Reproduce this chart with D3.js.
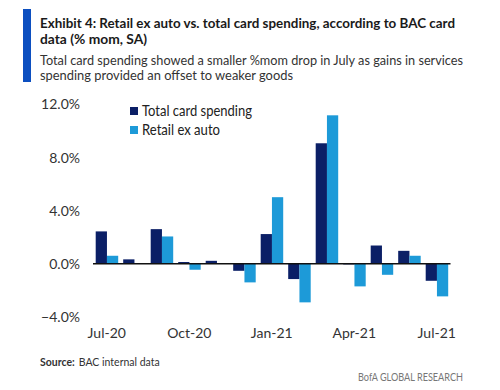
<!DOCTYPE html>
<html><head><meta charset="utf-8">
<script src="https://cdn.jsdelivr.net/npm/d3@7"></script>
<style>
html,body{margin:0;padding:0;background:#fff;}
svg{display:block;font-family:Lato,"Open Sans",sans-serif;}
</style></head>
<body>
<svg id="chart" width="500" height="390"></svg>
<script>
const months = ["Jul-20","Aug-20","Sep-20","Oct-20","Nov-20","Dec-20","Jan-21","Feb-21","Mar-21","Apr-21","May-21","Jun-21","Jul-21"];
const seriesNames = ["Total card spending","Retail ex auto"];
const totalCard = [2.43, 0.33, 2.6, 0.13, 0.22, -0.53, 2.23, -1.15, 9.05, -0.05, 1.37, 0.97, -1.28];
const retailExAuto = [0.6, 0.0, 2.05, -0.45, 0.0, -1.4, 5.0, -2.9, 11.15, -1.7, -0.83, 0.6, -2.45];
const yTicks = [-4, 0, 4, 8, 12];
const xTickLabels = ["Jul-20","Oct-20","Jan-21","Apr-21","Jul-21"];
const colors = ["#0b1f66", "#1d9ad8"];

const svg = d3.select("#chart");

// left accent bar
svg.append("rect").attr("x",23).attr("y",9).attr("width",8).attr("height",73).attr("fill","#0c4fc0");

// title and subtitle
const titleLines = [
  {t:"Exhibit 4: Retail ex auto vs. total card spending, according to BAC card", y:28, w:415, b:true},
  {t:"data (% mom, SA)", y:44, w:107, b:true},
  {t:"Total card spending showed a smaller %mom drop in July as gains in services", y:65, w:423, b:false},
  {t:"spending provided an offset to weaker goods", y:80, w:253, b:false}
];
titleLines.forEach(l=>{
  svg.append("text").attr("x",40).attr("y",l.y)
    .attr("font-size",l.b?13.2:12.4)
    .attr("font-weight",l.b?"bold":"normal")
    .attr("fill",l.b?"#1a1a1a":"#333")
    .attr("textLength",l.w).attr("lengthAdjust","spacingAndGlyphs")
    .text(l.t);
});

// scales
const x0 = d3.scaleBand().domain(months).range([93, 450.5]).paddingInner(0).paddingOuter(0);
const x1 = d3.scaleBand().domain(seriesNames).range([2.7, x0.bandwidth()-2.3]);
const y = d3.scaleLinear().domain([-4, 12]).range([317, 104]);

// y axis labels
const yAxis = d3.axisLeft(y).tickValues(yTicks).tickFormat(d=>d3.format(".1f")(d)+"%").tickSize(0).tickPadding(0);
const ya = svg.append("g").attr("transform","translate(80,0)").call(yAxis);
ya.select(".domain").remove();
ya.selectAll("text").attr("font-size",14).attr("fill","#333").attr("font-family","Lato,'Open Sans',sans-serif").attr("dy","0.35em");

// bars
const data = months.map((m,i)=>({m, vals:[totalCard[i], retailExAuto[i]]}));
const g = svg.append("g");
data.forEach(d=>{
  d.vals.forEach((v,j)=>{
    g.append("rect")
      .attr("x", x0(d.m) + x1(seriesNames[j]))
      .attr("width", x1.bandwidth())
      .attr("y", y(Math.max(0,v)))
      .attr("height", Math.abs(y(v)-y(0)))
      .attr("fill", colors[j]);
  });
});

// zero line
svg.append("line").attr("x1",x0.range()[0]).attr("x2",x0.range()[1])
  .attr("y1",y(0)).attr("y2",y(0)).attr("stroke","#111").attr("stroke-width",1.5);

// x axis labels
const xAxis = d3.axisBottom(x0).tickValues(xTickLabels).tickSize(0).tickPadding(0);
const xa = svg.append("g").attr("transform","translate(0,328)").call(xAxis);
xa.select(".domain").remove();
xa.selectAll("text").attr("font-size",14).attr("fill","#333").attr("font-family","Lato,'Open Sans',sans-serif");

// legend
seriesNames.forEach((s,i)=>{
  const ly = 107 + i*19;
  svg.append("rect").attr("x",130).attr("y",ly).attr("width",8).attr("height",8).attr("fill",colors[i]);
  svg.append("text").attr("x",142).attr("y",ly+8.5).attr("font-size",15).attr("fill","#222")
    .attr("textLength", i===0?110:78).attr("lengthAdjust","spacingAndGlyphs").text(s);
});

// source
const src = svg.append("text").attr("x",40).attr("y",366).attr("font-size",10.5).attr("fill","#333");
src.append("tspan").attr("font-weight","bold").text("Source:");
src.append("tspan").attr("dx",4).text("BAC internal data");

svg.append("text").attr("x",463).attr("y",381).attr("text-anchor","end").attr("font-size",11)
  .attr("fill","#777").attr("textLength",105).attr("lengthAdjust","spacingAndGlyphs").text("BofA GLOBAL RESEARCH");
</script>
</body></html>
